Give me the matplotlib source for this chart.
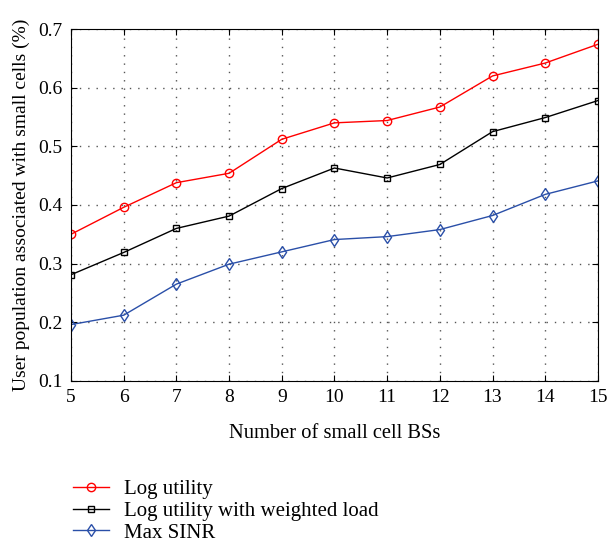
import numpy as np
import matplotlib.pyplot as plt

plt.rcParams['font.family'] = ['Liberation Serif', 'DejaVu Serif']

# Number of small cell BSs
num_bs = [5, 6, 7, 8, 9, 10, 11, 12, 13, 14, 15]

# User population associated with small cells
log_utility = [0.350, 0.396, 0.438, 0.454, 0.512, 0.540, 0.544, 0.567, 0.620, 0.642, 0.674]
log_utility_weighted = [0.281, 0.319, 0.360, 0.381, 0.428, 0.463, 0.446, 0.469, 0.525, 0.549, 0.578]
max_sinr = [0.196, 0.212, 0.265, 0.299, 0.320, 0.341, 0.346, 0.358, 0.382, 0.418, 0.441]

fig = plt.figure(figsize=(6.07, 5.48), dpi=100)
ax = fig.add_axes([0.117, 0.305, 0.868, 0.642])

ax.plot(num_bs, log_utility, color='#ff0000', marker='o', markersize=6,
        markerfacecolor='none', linewidth=1, label='Log utility')
ax.plot(num_bs, log_utility_weighted, color='black', marker='s', markersize=5,
        markerfacecolor='none', linewidth=1, label='Log utility with weighted load')
ax.plot(num_bs, max_sinr, color='#2a4fa8', marker='d', markersize=6,
        markerfacecolor='none', linewidth=1, label='Max SINR')

ax.set_xlim(5, 15)
ax.set_ylim(0.1, 0.7)
ax.set_xticks(range(5, 16))
ax.set_yticks(np.arange(0.1, 0.71, 0.1))
ax.set_yticklabels(['0.1', '0.2', '0.3', '0.4', '0.5', '0.6', '0.7'])
ax.tick_params(direction='in', top=True, right=True, labelsize=14, length=4, pad=6)
ax.grid(True, linestyle=(0, (1, 5)), color='#555555', linewidth=1)

ax.set_xlabel('Number of small cell BSs', fontsize=14.8, labelpad=13)
ax.set_ylabel('User population associated with small cells (%)', fontsize=14, labelpad=6)

ax.legend(loc='upper left', bbox_to_anchor=(-0.031, -0.228), frameon=False,
          fontsize=15, handlelength=1.7, handletextpad=0.75, labelspacing=0.1)

plt.savefig('out.png', dpi=100)
